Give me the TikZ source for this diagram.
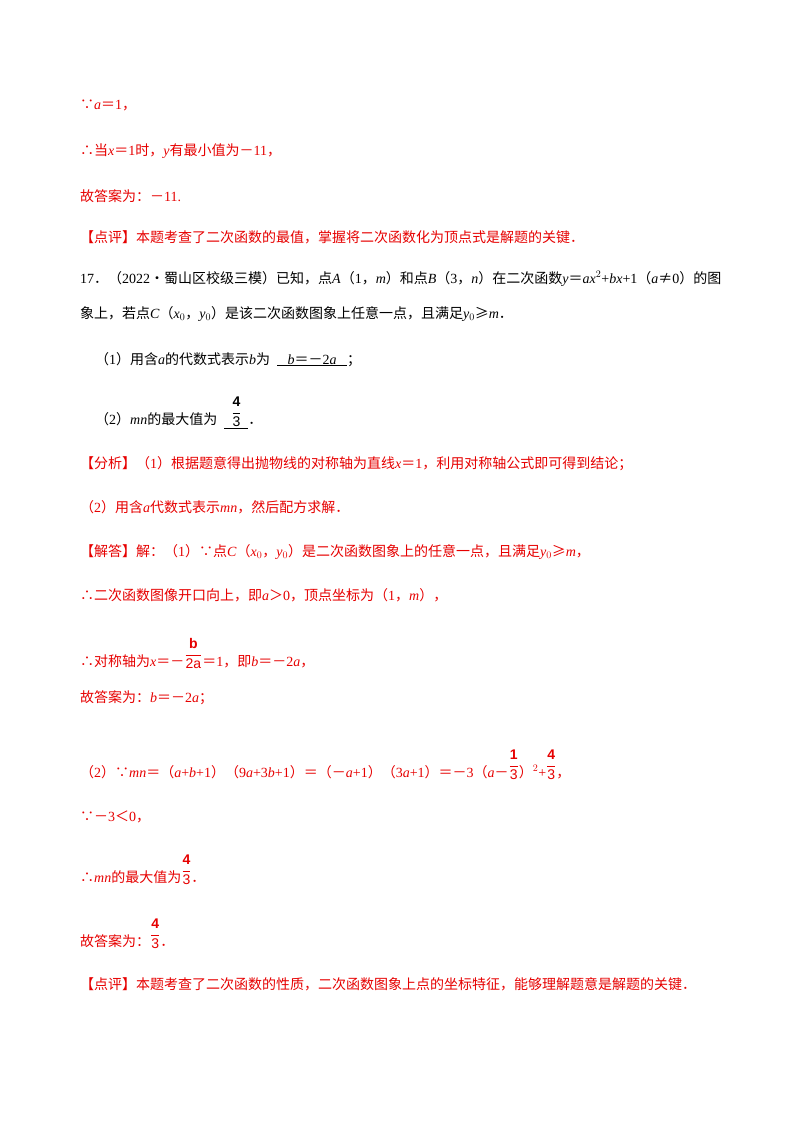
\documentclass[tikz,border=0pt]{standalone}
\usepackage{fontspec}
\setmainfont{Liberation Serif}
\newfontfamily\cjk{Noto Sans CJK SC}
\newfontfamily\fsans{Liberation Sans}
\newcommand\zh[1]{{\cjk #1}}
\newcommand\fr[2]{\raisebox{0.55em}{$\displaystyle\frac{\mbox{\fsans\bfseries #1}}{\mbox{\fsans #2}}$}}
\definecolor{ans}{RGB}{230,0,0}
\tikzset{ln/.style={anchor=base west,inner sep=0pt,font=\fontsize{14pt}{16pt}\selectfont},
 rd/.style={ln,text=ans}}
\begin{document}
\begin{tikzpicture}[x=1pt,y=-1pt]
\useasboundingbox (0,0) rectangle (800,1132);
\node[rd] (l1) at (80,109) {\zh{∵}\textit{a}\zh{＝}1\zh{，}};
\node[rd] (l2) at (80,155) {\zh{∴当}\textit{x}\zh{＝}1\zh{时，}\textit{y}\zh{有最小值为－}11\zh{，}};
\node[rd] (l3) at (80,201) {\zh{故答案为：－}11.};
\node[rd] (l4) at (80,242) {\zh{【点评】本题考查了二次函数的最值，掌握将二次函数化为顶点式是解题的关键．}};
\node[ln] (q1) at (80,283) {17\zh{．（}2022\zh{•蜀山区校级三模）已知，点}\textit{A}\zh{（}1\zh{，}\textit{m}\zh{）和点}\textit{B}\zh{（}3\zh{，}\textit{n}\zh{）在二次函数}\textit{y}\zh{＝}\textit{ax}$^2$+\textit{bx}+1\zh{（}\textit{a}\zh{≠}0\zh{）的图}};
\node[ln] (q2) at (80,318) {\zh{象上，若点}\textit{C}\zh{（}\textit{x}$_0$\zh{，}\textit{y}$_0$\zh{）是该二次函数图象上任意一点，且满足}\textit{y}$_0$\zh{≥}\textit{m}\zh{．}};
\node[ln] (p1) at (95,364) {\zh{（}1\zh{）用含}\textit{a}\zh{的代数式表示}\textit{b}\zh{为}\ \ \underline{\ \ \ \textit{b}\zh{＝－}2\textit{a}\ \ \ }\zh{；}};
\node[ln] (p2) at (95,424) {\zh{（}2\zh{）}\textit{mn}\zh{的最大值为}\ \ \underline{\ \ \fr{4}{3}\ \ }\zh{．}};
\node[rd] (a1) at (80,468) {\zh{【分析】（}1\zh{）根据题意得出抛物线的对称轴为直线}\textit{x}\zh{＝}1\zh{，利用对称轴公式即可得到结论；}};
\node[rd] (a2) at (80,512) {\zh{（}2\zh{）用含}\textit{a}\zh{代数式表示}\textit{mn}\zh{，然后配方求解．}};
\node[rd] (a3) at (80,556) {\zh{【解答】解：（}1\zh{）∵点}\textit{C}\zh{（}\textit{x}$_0$\zh{，}\textit{y}$_0$\zh{）是二次函数图象上的任意一点，且满足}\textit{y}$_0$\zh{≥}\textit{m}\zh{，}};
\node[rd] (a4) at (80,600) {\zh{∴二次函数图像开口向上，即}\textit{a}\zh{＞}0\zh{，顶点坐标为（}1\zh{，}\textit{m}\zh{），}};
\node[rd] (a5) at (80,666) {\zh{∴对称轴为}\textit{x}\zh{＝－}\fr{b}{2a}\zh{＝}1\zh{，即}\textit{b}\zh{＝－}2\textit{a}\zh{，}};
\node[rd] (a6) at (80,702) {\zh{故答案为：}\textit{b}\zh{＝－}2\textit{a}\zh{；}};
\node[rd] (a7) at (80,777) {\zh{（}2\zh{）∵}\textit{mn}\zh{＝（}\textit{a}+\textit{b}+1\zh{）（}9\textit{a}+3\textit{b}+1\zh{）＝（－}\textit{a}+1\zh{）（}3\textit{a}+1\zh{）＝－}3\zh{（}\textit{a}\zh{－}\fr{1}{3}\zh{）}$^2$+\fr{4}{3}\zh{，}};
\node[rd] (a8) at (80,821) {\zh{∵－}3\zh{＜}0\zh{，}};
\node[rd] (a9) at (80,882) {\zh{∴}\textit{mn}\zh{的最大值为}\fr{4}{3}\zh{．}};
\node[rd] (a10) at (80,946) {\zh{故答案为：}\fr{4}{3}\zh{．}};
\node[rd] (a11) at (80,989) {\zh{【点评】本题考查了二次函数的性质，二次函数图象上点的坐标特征，能够理解题意是解题的关键．}};
\end{tikzpicture}
\end{document}
